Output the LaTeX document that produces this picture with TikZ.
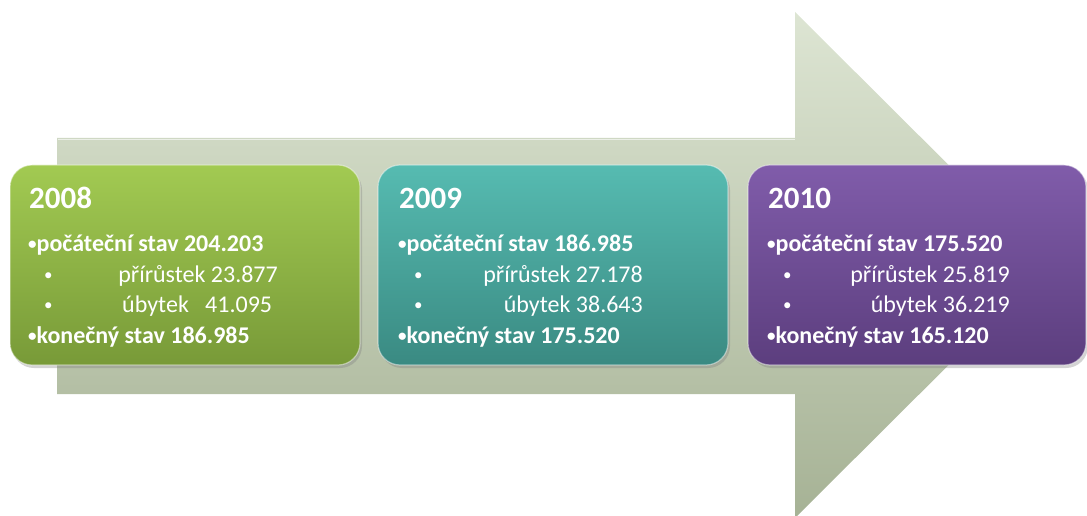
\documentclass[tikz,border=0pt]{standalone}
\usepackage{fontspec}
\setmainfont{Carlito}
\usetikzlibrary{shadows}
\definecolor{arrTop}{HTML}{DDE5D3}
\definecolor{arrBot}{HTML}{A6B295}
\definecolor{gTop}{HTML}{A2CA52}
\definecolor{gBot}{HTML}{789A38}
\definecolor{tTop}{HTML}{56BBB1}
\definecolor{tBot}{HTML}{3A8A82}
\definecolor{pTop}{HTML}{805CAA}
\definecolor{pBot}{HTML}{5C3E7E}
\newcommand{\mybul}{\raisebox{2pt}{\fontsize{17}{20}\selectfont•}}
\tikzset{
  yearbox/.style={rounded corners=22pt, draw=white, draw opacity=0.45, line width=1.2pt,
    drop shadow={shadow xshift=2pt, shadow yshift=-3pt, opacity=0.35}},
  yeartxt/.style={anchor=base west, text=white, font=\fontsize{31}{36}\selectfont\bfseries, inner sep=0pt},
  maintxt/.style={anchor=base west, text=white, font=\fontsize{24}{28}\selectfont\bfseries, inner sep=0pt},
  bultxt/.style={anchor=base west, text=white, font=\fontsize{24}{28}\selectfont, inner sep=0pt},
  subtxt/.style={anchor=base east, text=white, font=\fontsize{24}{28}\selectfont, inner sep=0pt},
  subtxtw/.style={anchor=base west, text=white, font=\fontsize{24}{28}\selectfont, inner sep=0pt},
}
\begin{document}
\begin{tikzpicture}[x=1pt,y=-1pt]
\useasboundingbox (0,0) rectangle (1087,516);
\clip (0,0) rectangle (1087,516);
% big arrow
\shade[top color=arrTop, bottom color=arrBot]
  (57,138) -- (795,138) -- (795,12) -- (1049,265) -- (795,518) -- (795,394) -- (57,394) -- cycle;
\draw[white, opacity=0.6, line width=1.5pt] (58,139.5) -- (795,139.5);
% boxes
\node[yearbox, top color=gTop, bottom color=gBot, minimum width=350pt, minimum height=200pt, inner sep=0pt]
  (b1) at (185,265) {};
\node[yearbox, top color=tTop, bottom color=tBot, minimum width=350pt, minimum height=200pt, inner sep=0pt]
  (b2) at (553,265) {};
\node[yearbox, top color=pTop, bottom color=pBot, minimum width=338pt, minimum height=200pt, inner sep=0pt]
  (b3) at (917,265) {};
% box 1
\node[yeartxt] (y1) at (29,208) {2008};
\node[maintxt] (a1) at (28,251) {\mybul počáteční stav 204.203};
\node[bultxt] (c1) at (44,282) {\mybul};
\node[subtxt] (d1) at (278,282) {přírůstek 23.877};
\node[bultxt] (e1) at (44,312) {\mybul};
\node[subtxtw] (f1) at (122,312) {úbytek};
\node[subtxtw] (g1) at (205,312) {41.095};
\node[maintxt] (h1) at (28,343) {\mybul konečný stav 186.985};
% box 2
\node[yeartxt] (y2) at (399,208) {2009};
\node[maintxt] (a2) at (398,251) {\mybul počáteční stav 186.985};
\node[bultxt] (c2) at (414,282) {\mybul};
\node[subtxt] (d2) at (643,282) {přírůstek 27.178};
\node[bultxt] (e2) at (414,312) {\mybul};
\node[subtxt] (f2) at (643,312) {úbytek 38.643};
\node[maintxt] (h2) at (398,343) {\mybul konečný stav 175.520};
% box 3
\node[yeartxt] (y3) at (768,208) {2010};
\node[maintxt] (a3) at (767,251) {\mybul počáteční stav 175.520};
\node[bultxt] (c3) at (783,282) {\mybul};
\node[subtxt] (d3) at (1010,282) {přírůstek 25.819};
\node[bultxt] (e3) at (783,312) {\mybul};
\node[subtxt] (f3) at (1010,312) {úbytek 36.219};
\node[maintxt] (h3) at (767,343) {\mybul konečný stav 165.120};
\end{tikzpicture}
\end{document}
